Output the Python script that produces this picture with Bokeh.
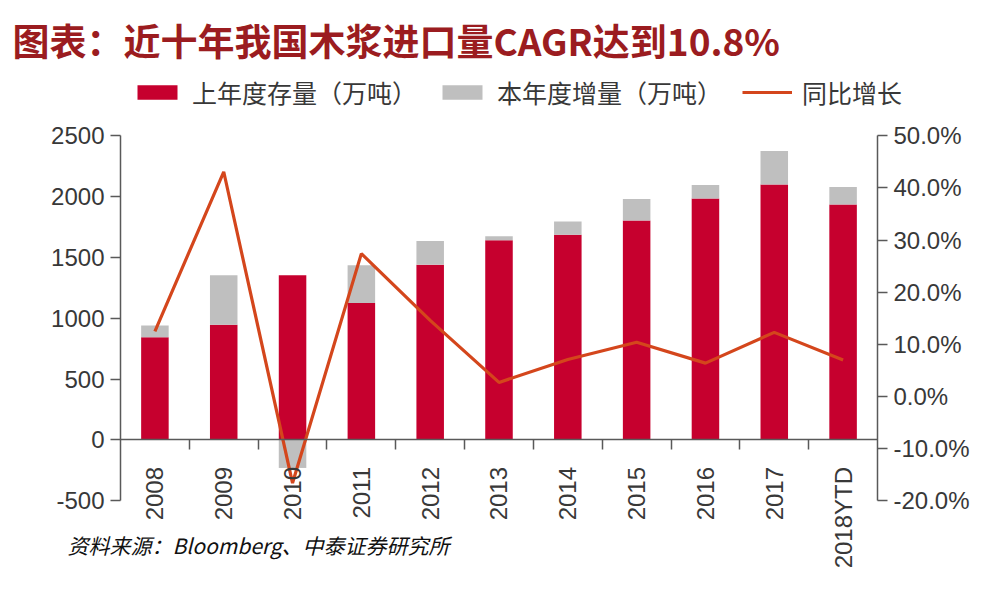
from bokeh.plotting import figure
from bokeh.models import (Range1d, LinearAxis, FixedTicker, SingleIntervalTicker,
                          NumeralTickFormatter, Legend, LegendItem, Label, ColumnDataSource)
from bokeh.embed import file_html
from bokeh.resources import INLINE
import math

# ---- data ----
categories = ["2008", "2009", "2010", "2011", "2012", "2013", "2014", "2015", "2016", "2017", "2018YTD"]
prev_stock = [845, 947, 1354, 1126, 1441, 1642, 1686, 1804, 1985, 2100, 1936]   # 上年度存量（万吨）
increment = [95, 407, -230, 310, 195, 33, 110, 176, 110, 275, 143]               # 本年度增量（万吨）
yoy = [0.125, 0.431, -0.166, 0.274, 0.146, 0.027, 0.071, 0.104, 0.064, 0.123, 0.070]  # 同比增长

left_ticks_range = (-500, 2500)
right_ticks_range = (-0.2, 0.5)

title_text = "图表：近十年我国木浆进口量CAGR达到10.8%"
source_text = "资料来源：Bloomberg、中泰证券研究所"
legend_labels = ["上年度存量（万吨）", "本年度增量（万吨）", "同比增长"]

RED = "#C6002E"
GRAY = "#BFBFBF"
ORANGE = "#D4461C"
AXIS = "#595959"
TXT = "#383838"
FONT = "Liberation Sans"
CJK = "Noto Sans CJK SC"

W, H = 986, 600
n = len(categories)
centers = [i + 0.5 for i in range(n)]
bounds = [float(i) for i in range(1, n)]
gray_bottom = [b if d >= 0 else 0 for b, d in zip(prev_stock, increment)]
gray_top = [b + d if d >= 0 else d for b, d in zip(prev_stock, increment)]

src = ColumnDataSource(dict(x=centers, base=prev_stock, gb=gray_bottom, gt=gray_top, yoy=yoy))

# layout geometry (canvas px): plotting area of categories and axis ranges
fx0, fx1 = 120.0, 877.0     # left / right axis positions
fy_top, fy_bot = 135.3, 500.3  # top / bottom of the value axes
xpu = (fx1 - fx0) / n
x_start = -fx0 / xpu
x_end = n + (W - fx1) / xpu
lpu = (fy_bot - fy_top) / (left_ticks_range[1] - left_ticks_range[0])
y_start = left_ticks_range[0] - (H - fy_bot) / lpu
y_end = left_ticks_range[1] + fy_top / lpu
rpu = (fy_bot - fy_top) / (right_ticks_range[1] - right_ticks_range[0])
r_start = right_ticks_range[0] - (H - fy_bot) / rpu
r_end = right_ticks_range[1] + fy_top / rpu

p = figure(width=W, height=H, x_range=Range1d(x_start, x_end), y_range=Range1d(y_start, y_end),
           output_backend="svg", toolbar_location=None,
           x_axis_location=None, y_axis_location=None, min_border=0,
           min_border_left=0, min_border_right=0, min_border_top=0, min_border_bottom=0)
p.outline_line_color = None
p.xgrid.visible = False
p.ygrid.visible = False
p.extra_y_ranges = {"pct": Range1d(r_start, r_end)}

# axes
left = LinearAxis(ticker=SingleIntervalTicker(interval=500, num_minor_ticks=0),
                  formatter=NumeralTickFormatter(format="0"),
                  bounds=left_ticks_range, fixed_location=0)
right = LinearAxis(y_range_name="pct", ticker=SingleIntervalTicker(interval=0.1, num_minor_ticks=0),
                   formatter=NumeralTickFormatter(format="0.0%"), bounds=right_ticks_range,
                   fixed_location=n)
for ax in (left, right):
    ax.axis_line_color = AXIS
    ax.axis_line_width = 1.5
    ax.major_tick_line_color = AXIS
    ax.major_tick_line_width = 1.5
    ax.major_tick_out = 10
    ax.major_tick_in = 0
    ax.minor_tick_line_color = None
    ax.major_label_standoff = 6
    ax.major_label_text_font = FONT
    ax.major_label_text_font_size = "24px"
    ax.major_label_text_color = TXT
p.add_layout(left, "left")
p.add_layout(right, "right")

xaxis = LinearAxis(ticker=FixedTicker(ticks=centers, minor_ticks=bounds),
                   major_label_overrides={c: cat for c, cat in zip(centers, categories)},
                   fixed_location=0, bounds=(0, n))
xaxis.axis_line_color = AXIS
xaxis.axis_line_width = 1.5
xaxis.major_tick_line_color = None
xaxis.major_tick_out = 0
xaxis.major_tick_in = 0
xaxis.minor_tick_line_color = AXIS
xaxis.minor_tick_line_width = 1.5
xaxis.minor_tick_out = 10
xaxis.minor_tick_in = 0
xaxis.major_label_orientation = math.pi / 2
xaxis.major_label_standoff = 17
xaxis.major_label_text_font = FONT
xaxis.major_label_text_font_size = "24px"
xaxis.major_label_text_color = TXT
p.add_layout(xaxis, "below")

# glyphs
r1 = p.vbar(x="x", bottom=0, top="base", width=0.4, source=src, fill_color=RED, line_color=None)
r2 = p.vbar(x="x", bottom="gb", top="gt", width=0.4, source=src, fill_color=GRAY, line_color=None)
r3 = p.line(x="x", y="yoy", y_range_name="pct", source=src, line_color=ORANGE, line_width=3.2)

legend = Legend(items=[LegendItem(label=legend_labels[0], renderers=[r1]),
                       LegendItem(label=legend_labels[1], renderers=[r2]),
                       LegendItem(label=legend_labels[2], renderers=[r3])],
                orientation="horizontal", location=(132, H - 110),
                glyph_width=50, glyph_height=18, label_standoff=10, spacing=20,
                padding=0, margin=0, border_line_color=None, background_fill_alpha=0,
                label_text_font=CJK, label_text_font_size="25px", label_text_color=TXT,
                label_height=28)
p.add_layout(legend)

p.add_layout(Label(x=12, y=H - 39, x_units="screen", y_units="screen", text=title_text,
                   text_font=CJK, text_font_size="37px", text_font_style="bold",
                   text_color="#9B1C20", text_baseline="middle"))
p.add_layout(Label(x=67, y=H - 544, x_units="screen", y_units="screen", text=source_text,
                   text_font=CJK, text_font_size="21px", text_font_style="italic",
                   text_color="#111111", text_baseline="middle"))

open("out.html", "w").write(file_html(p, INLINE))
